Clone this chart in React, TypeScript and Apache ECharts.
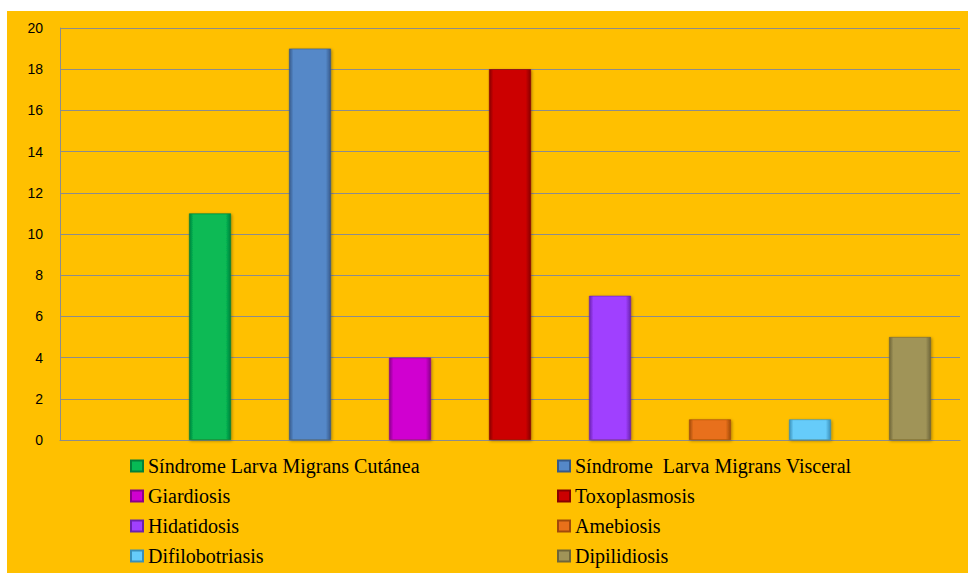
import React, { useEffect, useRef } from "react";
import * as echarts from "echarts";

// Parasitic disease cases, one bar per disease; the first slot stays empty.
const diseases = [
  "Síndrome Larva Migrans Cutánea",
  "Síndrome  Larva Migrans Visceral",
  "Giardiosis",
  "Toxoplasmosis",
  "Hidatidosis",
  "Amebiosis",
  "Difilobotriasis",
  "Dipilidiosis",
];
const cases = [11, 19, 4, 18, 7, 1, 1, 5];
const barColors = [
  ["#07BA55", "#04803A"],
  ["#5588C8", "#36598A"],
  ["#D000D0", "#8A008A"],
  ["#CC0000", "#870000"],
  ["#A040FF", "#6A22AE"],
  ["#E8701A", "#A24A0A"],
  ["#66CCFA", "#3A8FB8"],
  ["#A09458", "#6E653A"],
];
const slots = ["", ...diseases];
const yTicks = { min: 0, max: 20, interval: 2 };

function barFill(base: string, edge: string) {
  return new echarts.graphic.LinearGradient(0, 0, 1, 0, [
    { offset: 0, color: edge },
    { offset: 0.1, color: base },
    { offset: 0.88, color: base },
    { offset: 1, color: edge },
  ]);
}

export default function App() {
  const ref = useRef<HTMLDivElement>(null);

  useEffect(() => {
    if (!ref.current) return;
    const chart = echarts.init(ref.current, null, { renderer: "svg" });

    const legendText = {
      fontFamily: "Liberation Serif, DejaVu Serif, serif",
      fontSize: 20,
      color: "#000",
    };

    // Two-column legend, one entry per disease, filled row by row.
    const legends = diseases.map((name, i) => ({
      orient: "horizontal",
      left: i % 2 === 0 ? 130 : 557,
      top: 456 + Math.floor(i / 2) * 30,
      itemWidth: 12,
      itemHeight: 11,
      itemGap: 0,
      icon: "rect",
      padding: 0,
      data: [name],
      textStyle: legendText,
    }));

    chart.setOption({
      animation: false,
      backgroundColor: "#ffffff",
      graphic: [
        {
          type: "rect",
          z: -10,
          silent: true,
          shape: { x: 7, y: 11, width: 961, height: 562 },
          style: { fill: "#FFC000" },
        },
      ],
      grid: { left: 60, right: 8, top: 28, bottom: 133 },
      legend: legends,
      xAxis: {
        type: "category",
        data: slots,
        axisLine: { show: true, lineStyle: { color: "#8C8C8C", width: 1 } },
        axisTick: { show: false },
        axisLabel: { show: false },
        splitLine: { show: false },
      },
      yAxis: {
        type: "value",
        min: yTicks.min,
        max: yTicks.max,
        interval: yTicks.interval,
        axisLine: { show: true, lineStyle: { color: "#8C8C8C", width: 1 } },
        axisTick: { show: false },
        axisLabel: {
          margin: 17,
          color: "#000",
          fontSize: 14,
          fontFamily: "Liberation Sans Narrow, Liberation Sans, sans-serif",
        },
        splitLine: { lineStyle: { color: "#8C8C8C", width: 1 } },
      },
      series: diseases.map((name, i) => ({
        name,
        type: "bar",
        stack: "cases",
        barWidth: 42,
        data: slots.map((_, j) => (j === i + 1 ? cases[i] : null)),
        itemStyle: {
          color: barFill(barColors[i][0], barColors[i][1]),
          borderColor: barColors[i][1],
          borderWidth: 0.6,
          shadowColor: "rgba(0,0,0,0.35)",
          shadowBlur: 3,
          shadowOffsetX: 1,
          shadowOffsetY: 1,
        },
      })),
    });

    return () => chart.dispose();
  }, []);

  return (
    <div
      ref={ref}
      style={{ position: "fixed", left: 0, top: 0, width: 968, height: 573 }}
    />
  );
}
